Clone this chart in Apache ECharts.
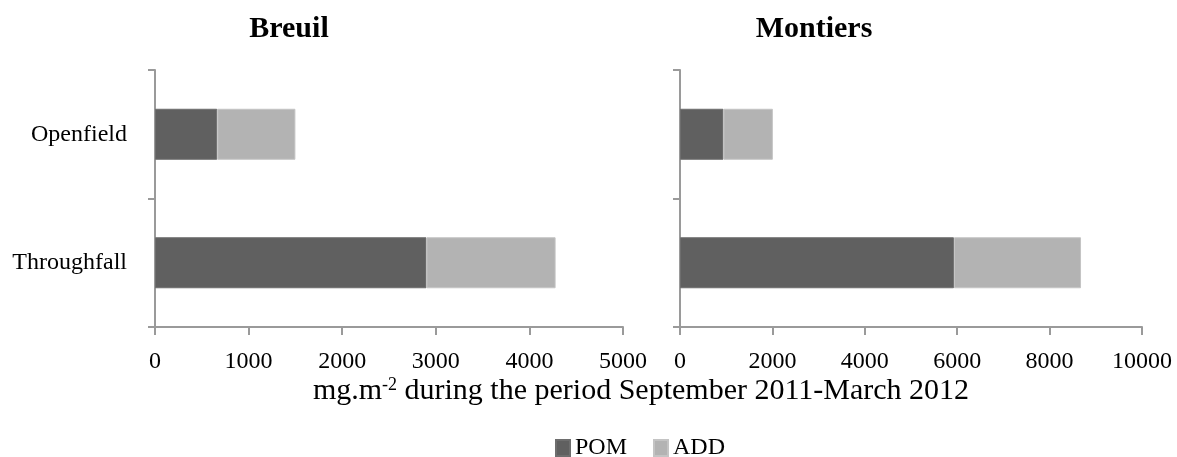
<!DOCTYPE html>
<html>
<head>
<meta charset="utf-8">
<script src="https://cdn.jsdelivr.net/npm/echarts@6/dist/echarts.min.js"></script>
<style>
html,body{margin:0;padding:0;background:#fff;}
#main{width:1177px;height:457px;}
</style>
</head>
<body>
<div id="main"></div>
<script>
// Data
var categories = ['Throughfall', 'Openfield'];
var breuilPOM = [2900, 665];
var breuilADD = [1380, 835];
var montiersPOM = [5930, 940];
var montiersADD = [2750, 1070];
var breuilTicks = [0, 5000, 1000];
var montiersTicks = [0, 10000, 2000];
var panelTitles = ['Breuil', 'Montiers'];

var FONT = "'Liberation Serif', 'Times New Roman', serif";
var POM_COLOR = '#606060';
var ADD_COLOR = '#b3b3b3';
var AXIS_COLOR = '#9a9a9a';

function xAxisDef(idx, ticks) {
  return {
    type: 'value', gridIndex: idx,
    min: ticks[0], max: ticks[1], interval: ticks[2],
    axisLine: {show: true, lineStyle: {color: AXIS_COLOR, width: 2}},
    axisTick: {show: true, length: 8, lineStyle: {color: AXIS_COLOR, width: 2}},
    splitLine: {show: false},
    axisLabel: {color: '#000', fontFamily: FONT, fontSize: 24, margin: 23,
      showMaxLabel: true, showMinLabel: true,
      formatter: function (v) { return String(v); }}
  };
}
function yAxisDef(idx, showLabels) {
  return {
    type: 'category', gridIndex: idx, data: categories,
    axisLine: {show: true, lineStyle: {color: AXIS_COLOR, width: 2}},
    axisTick: {show: true, length: 7, lineStyle: {color: AXIS_COLOR, width: 2}},
    axisLabel: {show: showLabels, color: '#000', fontFamily: FONT, fontSize: 24, margin: 28,
      padding: [4, 0, 0, 0]},
    splitLine: {show: false}
  };
}
function barSeries(name, data, color, border, idx, stack) {
  return {
    name: name, type: 'bar', stack: stack, xAxisIndex: idx, yAxisIndex: idx,
    data: data, barWidth: 51,
    itemStyle: {color: color, borderColor: border, borderWidth: 1},
    emphasis: {disabled: true}
  };
}

var option = {
  animation: false,
  backgroundColor: '#fff',
  title: [
    {text: panelTitles[0], left: 284, top: 9, textAlign: 'center',
      textStyle: {fontFamily: FONT, fontWeight: 'bold', fontSize: 30, color: '#000'}},
    {text: panelTitles[1], left: 809, top: 9, textAlign: 'center',
      textStyle: {fontFamily: FONT, fontWeight: 'bold', fontSize: 30, color: '#000'}},
    {text: 'mg.m{sup|-2} during the period September 2011-March 2012', left: 636, top: 371, textAlign: 'center',
      textStyle: {fontFamily: FONT, fontWeight: 'normal', fontSize: 30, color: '#000',
        rich: {sup: {fontFamily: FONT, fontSize: 18, color: '#000', verticalAlign: 'top', padding: [0, 0, 12, 0]}}}}
  ],
  legend: {
    data: ['POM', 'ADD'],
    left: 550, top: 431,
    itemWidth: 14, itemHeight: 16, itemGap: 26,
    icon: 'rect',
    textStyle: {fontFamily: FONT, fontSize: 24, color: '#000'}
  },
  grid: [
    {left: 155, right: 554, top: 70, bottom: 130, containLabel: false},
    {left: 680, right: 35, top: 70, bottom: 130, containLabel: false}
  ],
  xAxis: [xAxisDef(0, breuilTicks), xAxisDef(1, montiersTicks)],
  yAxis: [yAxisDef(0, true), yAxisDef(1, false)],
  series: [
    barSeries('POM', breuilPOM, POM_COLOR, '#6e6e6e', 0, 'b'),
    barSeries('ADD', breuilADD, ADD_COLOR, '#c4c4c4', 0, 'b'),
    barSeries('POM', montiersPOM, POM_COLOR, '#6e6e6e', 1, 'm'),
    barSeries('ADD', montiersADD, ADD_COLOR, '#c4c4c4', 1, 'm')
  ]
};
var chart = echarts.init(document.getElementById('main'), null, {renderer: 'canvas'});
chart.setOption(option);
</script>
</body>
</html>
